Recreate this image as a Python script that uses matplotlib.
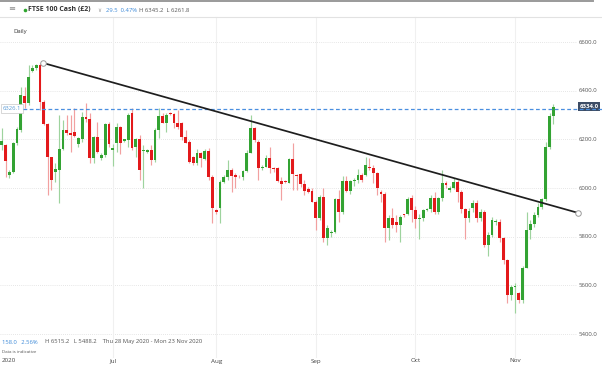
import matplotlib
matplotlib.use('Agg')
import matplotlib.pyplot as plt

plt.rcParams['font.family'] = ['Open Sans', 'DejaVu Sans']

# daily candles, 28 May 2020 onwards (IG chart, includes short Sunday sessions)
opens = [6177, 6177, 6054, 6067, 6184, 6239, 6380, 6348, 6482, 6492,
         6506, 6355, 6263, 6127, 6066, 6074, 6160, 6239, 6226, 6229,
         6180, 6200, 6293, 6283, 6122, 6211, 6122, 6136, 6263, 6155,
         6184, 6250, 6195, 6198, 6307, 6170, 6200, 6153, 6150, 6156,
         6115, 6239, 6296, 6266, 6307, 6304, 6269, 6266, 6211, 6191,
         6127, 6105, 6143, 6119, 6152, 6047, 5910, 5917, 6026, 6044,
         6074, 6054, 6047, 6044, 6071, 6143, 6245, 6191, 6081, 6088,
         6125, 6081, 6081, 6029, 6029, 6022, 6118, 6054, 6058, 6017,
         5995, 5990, 5944, 5876, 5965, 5794, 5814, 5821, 5954, 5900,
         6030, 5990, 6030, 6035, 6054, 6054, 6088, 6081, 6061, 5985,
         5975, 5835, 5876, 5862, 5849, 5892, 5892, 5958, 5910, 5872,
         5876, 5910, 5915, 5958, 5903, 5958, 6020, 5992, 5999, 6026,
         5985, 5913, 5876, 5920, 5937, 5876, 5903, 5766, 5807, 5860,
         5860, 5794, 5705, 5561, 5595, 5570, 5540, 5673, 5828, 5853,
         5890, 5924, 5954, 6170, 6296]
highs = [6246, 6180, 6074, 6191, 6250, 6416, 6416, 6506, 6506, 6510,
         6515, 6362, 6266, 6129, 6102, 6300, 6280, 6300, 6300, 6328,
         6211, 6314, 6348, 6307, 6214, 6273, 6143, 6266, 6273, 6180,
         6266, 6255, 6203, 6307, 6328, 6204, 6218, 6177, 6160, 6177,
         6246, 6328, 6307, 6307, 6311, 6307, 6321, 6273, 6239, 6198,
         6130, 6160, 6150, 6160, 6163, 6054, 5915, 6033, 6054, 6115,
         6081, 6061, 6054, 6074, 6156, 6300, 6252, 6198, 6095, 6136,
         6170, 6088, 6088, 6047, 6033, 6122, 6184, 6058, 6061, 6033,
         6003, 5999, 5951, 5972, 5999, 5849, 5828, 5958, 5992, 6050,
         6050, 6035, 6040, 6080, 6060, 6129, 6122, 6095, 6065, 5992,
         5985, 5890, 5917, 5890, 5890, 5895, 5965, 5972, 5925, 5895,
         5915, 5920, 5972, 5985, 5965, 6074, 6030, 6010, 6040, 6033,
         5992, 5920, 5920, 5951, 5951, 5915, 5910, 5820, 5880, 5872,
         5872, 5800, 5710, 5600, 5610, 5575, 5680, 5903, 5870, 5900,
         5940, 5960, 6190, 6310, 6345]
lows = [6156, 6047, 6040, 6061, 6177, 6232, 6328, 6341, 6478, 6485,
        6321, 6259, 5972, 5992, 6026, 5938, 6156, 6218, 6150, 6211,
        6170, 6191, 6273, 6102, 6102, 6143, 6115, 6129, 6170, 6090,
        6150, 6138, 6190, 6170, 6156, 6129, 6033, 6000, 6145, 6095,
        6108, 6204, 6266, 6232, 6300, 6246, 6241, 6198, 6184, 6102,
        6095, 6095, 6088, 6115, 6033, 5855, 5895, 5855, 6020, 6033,
        5985, 6000, 6040, 6033, 6067, 6143, 6191, 6033, 6075, 6088,
        6061, 6067, 6026, 5951, 6020, 6020, 5992, 5992, 6006, 5972,
        5979, 5944, 5828, 5869, 5780, 5766, 5801, 5814, 5862, 5895,
        5985, 5975, 6010, 6020, 6025, 6050, 6075, 6020, 5972, 5944,
        5780, 5787, 5835, 5820, 5780, 5882, 5888, 5862, 5835, 5790,
        5865, 5905, 5900, 5895, 5895, 5945, 6000, 5985, 5995, 5944,
        5898, 5790, 5860, 5900, 5862, 5865, 5760, 5720, 5800, 5850,
        5780, 5690, 5527, 5540, 5488, 5527, 5530, 5670, 5790, 5840,
        5880, 5915, 5945, 6160, 6262]
closes = [6195, 6112, 6067, 6184, 6243, 6382, 6348, 6458, 6492, 6506,
          6355, 6263, 6127, 6033, 6077, 6160, 6239, 6228, 6218, 6215,
          6205, 6293, 6284, 6122, 6211, 6150, 6136, 6263, 6181, 6165,
          6250, 6184, 6200, 6300, 6163, 6200, 6074, 6156, 6156, 6115,
          6239, 6296, 6269, 6300, 6303, 6269, 6252, 6211, 6186, 6108,
          6105, 6143, 6122, 6152, 6047, 5920, 5900, 6026, 6044, 6074,
          6050, 6047, 6044, 6071, 6143, 6245, 6198, 6081, 6086, 6125,
          6081, 6078, 6029, 6017, 6024, 6118, 6058, 6050, 6017, 5990,
          5985, 5944, 5876, 5965, 5794, 5835, 5818, 5954, 5900, 6030,
          5990, 6030, 6035, 6055, 6033, 6095, 6081, 6061, 6000, 5975,
          5835, 5876, 5849, 5849, 5880, 5888, 5954, 5910, 5872, 5879,
          5910, 5915, 5958, 5903, 5958, 6020, 6013, 6002, 6026, 5985,
          5913, 5876, 5907, 5937, 5876, 5903, 5766, 5807, 5869, 5865,
          5794, 5705, 5561, 5592, 5598, 5540, 5673, 5828, 5853, 5890,
          5924, 5954, 6170, 6296, 6334]

y_ticks = [5400, 5600, 5800, 6000, 6200, 6400, 6600]
month_pos = [29, 56, 82, 108, 134]
month_labels = ['Jul', 'Aug', 'Sep', 'Oct', 'Nov']

trend_x = [10.8, 150.5]
trend_y = [6514, 5898]
level_line = 6326.1
last_price = 6334.0

W, H = 602, 366
fig = plt.figure(figsize=(W / 100, H / 100), dpi=100)
ax = fig.add_axes([0, 0, 1, 1])
ax.set_xlim(-0.44, 156.7)
ax.set_ylim(5269.3, 6772.5)
ax.axis('off')

# grid
for v in y_ticks:
    ax.axhline(v, xmin=0, xmax=576 / W, color='#dedede', lw=0.6, ls=(0, (1, 1.5)), zorder=0)
for m in month_pos:
    ax.axvline(m, ymin=9 / H, ymax=(H - 17) / H, color='#f0f0f0', lw=0.8, zorder=0)

# candles
x = list(range(len(closes)))
up = [c >= o for o, c in zip(opens, closes)]
body_col = ['#33a333' if u else '#e3191b' for u in up]
wick_col = ['#9ed39e' if u else '#f2a0a0' for u in up]
ax.vlines(x, lows, highs, colors=wick_col, lw=0.85, zorder=2)
bottoms = [min(o, c) for o, c in zip(opens, closes)]
heights = [max(abs(c - o), 3) for o, c in zip(opens, closes)]
ax.bar(x, heights, bottom=bottoms, width=0.74, color=body_col, linewidth=0, zorder=3)

# drawn level and trend line
ax.axhline(level_line, xmin=23 / W, xmax=1, color='#4a8fe0', lw=0.9, ls=(0, (3, 2)), zorder=4)
ax.plot(trend_x, trend_y, color='#1e1e1e', lw=1.25, solid_capstyle='round', zorder=5)
ax.plot(trend_x, trend_y, 'o', mfc='white', mec='#9a9a9a', ms=4, mew=0.7, zorder=6)

# right price axis
ytr = ax.get_yaxis_transform()
for v in y_ticks:
    ax.text(597 / W, v, f'{v:.1f}', transform=ytr, ha='right', va='center',
            fontsize=4.3, color='#555555')
ax.text(598.5 / W, last_price, f'{last_price:.1f}', transform=ytr, ha='right', va='center',
        fontsize=4.3, color='white', fontweight='bold',
        bbox=dict(boxstyle='square,pad=0.3', fc='#3d4d66', ec='none'))
ax.text(3 / W, level_line, f'{level_line:.1f}', transform=ytr, ha='left', va='center',
        fontsize=4.2, color='#5b9bd5',
        bbox=dict(boxstyle='square,pad=0.3', fc='white', ec='#c8c8c8', lw=0.5))

# month labels
xtr = ax.get_xaxis_transform()
ax.text(2 / W, 1 - 361 / H, '2020', transform=ax.transAxes, ha='left', va='center',
        fontsize=4.5, color='#444444')
for m, lab in zip(month_pos, month_labels):
    ax.text(m, 1 - 361 / H, lab, transform=xtr, ha='center', va='center',
            fontsize=4.5, color='#444444')

# header
fig.add_artist(plt.Line2D([0, 593 / W], [1 - 0.7 / H] * 2, color='#9a9a9a', lw=1.4))
fig.add_artist(plt.Line2D([0, 1], [1 - 16.5 / H] * 2, color='#e2e2e2', lw=0.8))
fig.text(8 / W, 1 - 10 / H, '≡', fontsize=6, color='#8a8a8a', va='center')
fig.add_artist(plt.Line2D([24.5 / W], [1 - 10 / H], marker='o', ms=2.6, color='#2ea52e', mew=0))
fig.text(28 / W, 1 - 10 / H, 'FTSE 100 Cash (£2)', fontsize=5, fontweight='bold',
         color='#333333', va='center')
fig.text(97 / W, 1 - 10 / H, '∨', fontsize=4, color='#999999', va='center')
fig.text(106 / W, 1 - 10 / H, '29.5  0.47%', fontsize=4.2, color='#3d8ad8', va='center')
fig.text(139 / W, 1 - 10 / H, 'H 6345.2  L 6261.8', fontsize=4.2, color='#555555', va='center')
fig.text(13 / W, 1 - 32 / H, 'Daily', fontsize=4.3, color='#333333', va='center')

# footer info
fig.text(2 / W, 1 - 342 / H, '158.0   2.56%', fontsize=4.2, color='#3d8ad8', va='center')
fig.text(45 / W, 1 - 342 / H, 'H 6515.2   L 5488.2    Thu 28 May 2020 - Mon 23 Nov 2020',
         fontsize=4.2, color='#555555', va='center')
fig.text(2 / W, 1 - 352 / H, 'Data is indicative', fontsize=3.2, color='#555555', va='center')

fig.savefig('out.png', dpi=100)
